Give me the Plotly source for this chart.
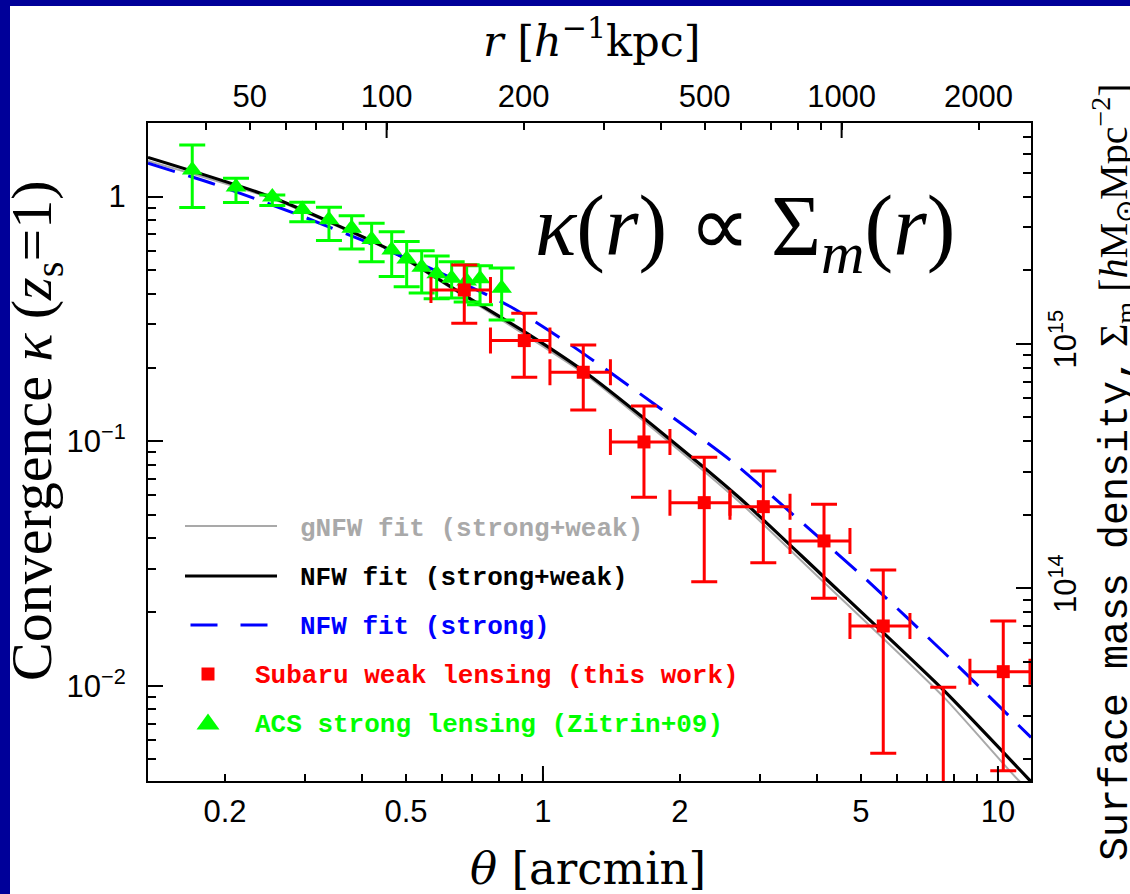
import numpy as np
import plotly.graph_objects as go

# ---------------- data ----------------
# ACS strong-lensing convergence (Zitrin+09)
acs_theta = [0.1695, 0.2115, 0.2542, 0.2958, 0.3386, 0.3798, 0.4202, 0.4651,
             0.5017, 0.5413, 0.5839, 0.6300, 0.6797, 0.7273, 0.8114]
acs_kappa = [1.286, 1.096, 0.997, 0.885, 0.805, 0.743, 0.667, 0.605,
             0.556, 0.514, 0.484, 0.464, 0.452, 0.461, 0.422]
acs_kappa_hi = [1.627, 1.189, 1.016, 0.949, 0.905, 0.836, 0.778, 0.719,
                0.655, 0.600, 0.572, 0.541, 0.526, 0.521, 0.510]
acs_kappa_lo = [0.902, 0.945, 0.919, 0.790, 0.661, 0.611, 0.542, 0.471,
                0.428, 0.403, 0.382, 0.385, 0.371, 0.361, 0.313]

# Subaru weak-lensing convergence (this work)
wl_theta = [0.6715, 0.9097, 1.2262, 1.6672, 2.2618, 3.0498, 4.1463, 5.5962, 7.5822, 10.272]
wl_theta_lo = [0.5673, 0.7667, 1.0360, 1.4069, 1.9014, 2.5765, 3.4914, 4.7283, 6.4053, 8.6776]
wl_theta_hi = [0.7667, 1.0360, 1.4069, 1.9014, 2.5765, 3.4914, 4.7283, 6.4053, 8.6776, 11.759]
wl_kappa = [0.4152, 0.2577, 0.1913, 0.09925, 0.05604, 0.05396, 0.03907, 0.01754, 0.0030, 0.01141]
wl_kappa_hi = [0.5256, 0.3335, 0.2474, 0.1393, 0.08595, 0.07553, 0.05518, 0.02973, 0.00985, 0.01839]
wl_kappa_lo = [0.3035, 0.1825, 0.1341, 0.05896, 0.02663, 0.03184, 0.02278, 0.00529, 0.0010, 0.00449]

# model profiles
nfw_theta = [0.1355, 0.2512, 0.4611, 0.6797, 0.9208, 1.247, 1.870, 2.710, 4.062, 7.584, 11.82]
nfw_kappa = [1.446, 1.000, 0.6053, 0.3900, 0.2763, 0.1895, 0.1043, 0.05841, 0.02883, 0.009603, 0.00405]

nfw_strong_theta = [0.1355, 0.1918, 0.2923, 0.5646, 0.8605, 1.166, 1.747, 2.619, 3.798, 5.146, 7.844, 11.82]
nfw_strong_kappa = [1.369, 1.116, 0.8378, 0.5095, 0.3497, 0.2435, 0.1429, 0.08181, 0.04470, 0.02706, 0.01294, 0.006143]

gnfw_theta = [0.1355, 0.2512, 0.4611, 0.6797, 1.247, 1.870, 2.710, 4.062, 7.584, 11.08, 11.82]
gnfw_kappa = [1.400, 0.9878, 0.5995, 0.3852, 0.1856, 0.1011, 0.05615, 0.02744, 0.009016, 0.004114, 0.00371]

# axis extents and conversions
theta_range = [0.1355, 11.82]          # arcmin
kappa_range = [0.004075, 2.0]
kpc_per_arcmin = 220.6                 # h^-1 kpc per arcmin
sigma_crit = 4.0e15                    # h M_sun Mpc^-2

x_ticks = [0.2, 0.5, 1, 2, 5, 10]
x_ticktext = ["0.2", "0.5", "1", "2", "5", "10"]
x_minor = [0.3, 0.4, 0.6, 0.7, 0.8, 0.9, 3, 4, 6, 7, 8, 9]
x_long = [1, 10]

r_ticks = [50, 100, 200, 500, 1000, 2000]
r_ticktext = ["50", "100", "200", "500", "1000", "2000"]
r_minor = [40, 60, 70, 80, 90, 300, 400, 600, 700, 800, 900]
r_long = [100, 1000]

y_ticks = [0.01, 0.1, 1]
y_ticktext = ["10<sup>−2</sup>", "10<sup>−1</sup>", "1"]
y_minor = [0.005, 0.006, 0.007, 0.008, 0.009,
           0.02, 0.03, 0.04, 0.05, 0.06, 0.07, 0.08, 0.09,
           0.2, 0.3, 0.4, 0.5, 0.6, 0.7, 0.8, 0.9]

s_ticks = [1e14, 1e15]
s_ticktext = ["10<sup>14</sup>", "10<sup>15</sup>"]
s_minor = [2e13, 3e13, 4e13, 5e13, 6e13, 7e13, 8e13, 9e13,
           2e14, 3e14, 4e14, 5e14, 6e14, 7e14, 8e14, 9e14,
           2e15, 3e15, 4e15, 5e15, 6e15, 7e15]

# ---------------- styling ----------------
W, H = 1130, 894
L, R, T, B = 148, 1031, 123, 781        # plot box in pixels
SANS = "Liberation Sans, Arial, sans-serif"
SERIF = "Liberation Serif, Times New Roman, serif"
WIDE_SERIF = "DejaVu Serif, Liberation Serif, serif"
MONO = "Liberation Mono, Courier New, monospace"
BG_BLUE = "#000099"
RED = "#FF0000"
GREEN = "#00FF00"
BLUE = "#0000FF"
GRAY = "#A9A9A9"


def px(x):
    return (x - L) / (R - L)


def py(y):
    return (B - y) / (B - T)


fig = go.Figure()

# model curves
fig.add_trace(go.Scatter(x=gnfw_theta, y=gnfw_kappa, mode="lines",
                         line=dict(color=GRAY, width=2, shape="spline", smoothing=0.6),
                         showlegend=False, hoverinfo="skip"))
fig.add_trace(go.Scatter(x=nfw_theta, y=nfw_kappa, mode="lines",
                         line=dict(color="black", width=3.2, shape="spline", smoothing=0.6),
                         showlegend=False, hoverinfo="skip"))
fig.add_trace(go.Scatter(x=nfw_strong_theta, y=nfw_strong_kappa, mode="lines",
                         line=dict(color=BLUE, width=3, dash="28px,14px", shape="spline", smoothing=0.6),
                         showlegend=False, hoverinfo="skip"))

# strong-lensing points
acs_up = [h - k for h, k in zip(acs_kappa_hi, acs_kappa)]
acs_dn = [k - l for k, l in zip(acs_kappa, acs_kappa_lo)]
fig.add_trace(go.Scatter(
    x=acs_theta, y=acs_kappa, mode="markers",
    marker=dict(symbol="triangle-up", size=18, color=GREEN, line=dict(width=0)),
    error_y=dict(type="data", symmetric=False, array=acs_up, arrayminus=acs_dn,
                 color=GREEN, thickness=3, width=13),
    showlegend=False))

# weak-lensing points
wl_up = [h - k for h, k in zip(wl_kappa_hi, wl_kappa)]
wl_dn = [k - l for k, l in zip(wl_kappa, wl_kappa_lo)]
wl_right = [h - t for h, t in zip(wl_theta_hi, wl_theta)]
wl_left = [t - l for t, l in zip(wl_theta, wl_theta_lo)]
fig.add_trace(go.Scatter(
    x=wl_theta, y=wl_kappa, mode="markers",
    marker=dict(symbol="square", size=13, color=RED, line=dict(width=0)),
    error_y=dict(type="data", symmetric=False, array=wl_up, arrayminus=wl_dn,
                 color=RED, thickness=3, width=13),
    error_x=dict(type="data", symmetric=False, array=wl_right, arrayminus=wl_left,
                 color=RED, thickness=3, width=13),
    showlegend=False))

# secondary axes (r on top, Sigma on right)
fig.add_trace(go.Scatter(x=[], y=[], xaxis="x2", yaxis="y2", showlegend=False))

shapes = []
# blue frame with white panel
shapes.append(dict(type="rect", xref="paper", yref="paper", layer="below",
                   x0=px(10), x1=px(W + 20), y0=py(6), y1=py(H + 20),
                   fillcolor="white", line=dict(width=0)))

# long decade ticks on bottom and top axes
for v in x_long:
    shapes.append(dict(type="line", xref="x", yref="paper", x0=v, x1=v,
                       ysizemode="pixel", yanchor=0, y0=0, y1=15,
                       line=dict(color="black", width=2)))
for v in r_long:
    shapes.append(dict(type="line", xref="x2", yref="paper", x0=v, x1=v,
                       ysizemode="pixel", yanchor=1, y0=0, y1=-15,
                       line=dict(color="black", width=2)))

# legend samples
shapes.append(dict(type="line", xref="paper", yref="paper",
                   x0=px(185), x1=px(277), y0=py(526), y1=py(526),
                   line=dict(color=GRAY, width=2)))
shapes.append(dict(type="line", xref="paper", yref="paper",
                   x0=px(185), x1=px(277), y0=py(576), y1=py(576),
                   line=dict(color="black", width=3.2)))
shapes.append(dict(type="line", xref="paper", yref="paper",
                   x0=px(190.5), x1=px(267.5), y0=py(625), y1=py(625),
                   line=dict(color=BLUE, width=3, dash="27px,23px")))
shapes.append(dict(type="rect", xref="paper", yref="paper",
                   xsizemode="pixel", ysizemode="pixel",
                   xanchor=px(208), yanchor=py(674),
                   x0=-6.5, x1=6.5, y0=-6.5, y1=6.5,
                   fillcolor=RED, line=dict(width=0)))
shapes.append(dict(type="path", xref="paper", yref="paper",
                   xsizemode="pixel", ysizemode="pixel",
                   xanchor=px(208), yanchor=py(722),
                   path="M -11.5 -7.5 L 11.5 -7.5 L 0 8.5 Z",
                   fillcolor=GREEN, line=dict(width=0)))

annotations = []


def note(text, x, y, size, family=SERIF, color="black", angle=0, xanchor="center"):
    annotations.append(dict(text=text, x=px(x), y=py(y), xref="paper", yref="paper",
                            showarrow=False, textangle=angle, xanchor=xanchor,
                            yanchor="middle", font=dict(family=family, size=size, color=color)))


# axis titles
note("<i>r</i> [<i>h</i><sup>−1</sup>kpc]", 592, 38, 43, family=WIDE_SERIF)
note("<i>θ</i> [arcmin]", 588, 869, 45, family=WIDE_SERIF)
note("Convergence <i>κ</i> (<i>z</i><sub>s</sub>=1)", 35, 431, 58, angle=-90)
note("<span style=\"font-family:Liberation Mono, Courier New, monospace\">Surface mass density,</span>"
     " Σ<sub>m</sub> [<i>h</i>M<sub>⊙</sub>Mpc<sup>−2</sup>]",
     1113, 472, 40, angle=-90)

# relation label
note("<i>κ</i>(<i>r</i>) ∝ Σ<sub><i>m</i></sub>(<i>r</i>)", 745, 232, 86)

# legend texts
legend_rows = [
    ("gNFW fit (strong+weak)", 298, 529, GRAY),
    ("NFW fit (strong+weak)", 298, 578, "black"),
    ("NFW fit (strong)", 298, 627, BLUE),
    ("Subaru weak lensing (this work)", 253, 676, RED),
    ("ACS strong lensing (Zitrin+09)", 253, 725, GREEN),
]
for txt, x, y, col in legend_rows:
    note("<b>" + txt + "</b>", x, y, 26, family=MONO, color=col, xanchor="left")

tick_font = dict(family=SANS, size=31, color="black")
common = dict(type="log", showgrid=False, zeroline=False, showline=True,
              linecolor="black", linewidth=2, ticks="inside",
              tickcolor="black", tickwidth=2, tickfont=tick_font)

fig.update_layout(
    width=W, height=H, autosize=False,
    margin=dict(l=L, r=W - R, t=T, b=H - B, pad=0),
    paper_bgcolor=BG_BLUE, plot_bgcolor="white",
    showlegend=False,
    shapes=shapes, annotations=annotations,
    xaxis=dict(**common, range=[np.log10(v) for v in theta_range],
               tickmode="array", tickvals=x_ticks, ticktext=x_ticktext, ticklen=7,
               ticklabelstandoff=2,
               minor=dict(tickvals=x_minor, ticks="inside", ticklen=7,
                          tickwidth=2, tickcolor="black")),
    xaxis2=dict(**common, overlaying="x", side="top", anchor="y",
                range=[np.log10(v * kpc_per_arcmin) for v in theta_range],
                tickmode="array", tickvals=r_ticks, ticktext=r_ticktext, ticklen=7,
                ticklabelstandoff=2,
                minor=dict(tickvals=r_minor, ticks="inside", ticklen=7,
                           tickwidth=2, tickcolor="black")),
    yaxis=dict(**common, range=[np.log10(v) for v in kappa_range],
               tickmode="array", tickvals=y_ticks, ticktext=y_ticktext, ticklen=15,
               ticklabelstandoff=14,
               minor=dict(tickvals=y_minor, ticks="inside", ticklen=8,
                          tickwidth=2, tickcolor="black")),
    yaxis2=dict(**common, overlaying="y", side="right", anchor="x",
                range=[np.log10(v * sigma_crit) for v in kappa_range],
                tickmode="array", tickvals=s_ticks, ticktext=s_ticktext, ticklen=15,
                tickangle=-90, ticklabelstandoff=6,
                minor=dict(tickvals=s_minor, ticks="inside", ticklen=8,
                           tickwidth=2, tickcolor="black")),
)

fig.write_html("out.html")
